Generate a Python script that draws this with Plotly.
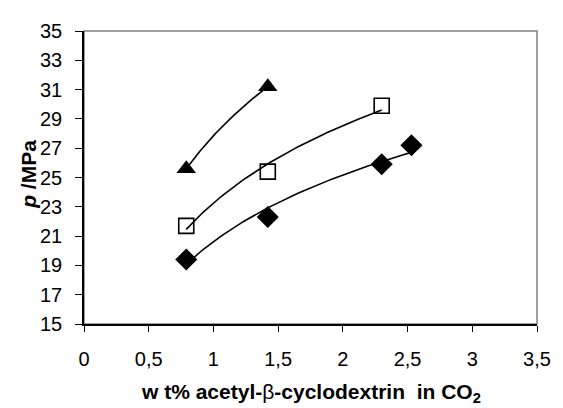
import numpy as np
import plotly.graph_objects as go

# Data
tri_x = [0.79, 1.42]
tri_y = [25.6, 31.2]
sq_x = [0.79, 1.42, 2.30]
sq_y = [21.7, 25.4, 29.9]
dia_x = [0.79, 1.42, 2.30, 2.53]
dia_y = [19.4, 22.3, 25.9, 27.2]

x_ticks = [0, 0.5, 1, 1.5, 2, 2.5, 3, 3.5]
x_ticktext = ["0", "0,5", "1", "1,5", "2", "2,5", "3", "3,5"]
y_ticks = [15, 17, 19, 21, 23, 25, 27, 29, 31, 33, 35]

FONT = "Liberation Sans, Arial, sans-serif"


def log_trend(xs, ys, n=80):
    a, b = np.polyfit(np.log(xs), ys, 1)
    xx = np.linspace(min(xs), max(xs), n)
    return xx, a * np.log(xx) + b


fig = go.Figure()
for xs, ys in [(tri_x, tri_y), (sq_x, sq_y), (dia_x, dia_y)]:
    xx, yy = log_trend(xs, ys)
    fig.add_trace(go.Scatter(x=xx, y=yy, mode="lines",
                             line=dict(color="black", width=1.6),
                             showlegend=False, hoverinfo="skip"))

fig.add_trace(go.Scatter(x=tri_x, y=tri_y, mode="markers",
                         marker=dict(symbol="triangle-up", size=17, color="black"),
                         showlegend=False))
fig.add_trace(go.Scatter(x=sq_x, y=sq_y, mode="markers",
                         marker=dict(symbol="square-open", size=15, color="black",
                                     line=dict(width=1.6, color="black")),
                         showlegend=False))
fig.add_trace(go.Scatter(x=dia_x, y=dia_y, mode="markers",
                         marker=dict(symbol="diamond", size=17, color="black"),
                         showlegend=False))

fig.add_shape(type="rect", xref="x domain", yref="y domain", x0=0, x1=1, y0=0, y1=1,
              line=dict(color="#808080", width=1.5), layer="below")

# page body has an 8px margin, so the figure is sized/offset accordingly
fig.update_layout(
    width=555, height=400,
    margin=dict(l=76, r=18, t=17, b=84),
    paper_bgcolor="white", plot_bgcolor="white",
    font=dict(family=FONT, size=20, color="black"),
    xaxis=dict(range=[0, 3.5], tickvals=x_ticks, ticktext=x_ticktext,
               showgrid=False, zeroline=False, showline=True, linecolor="black",
               linewidth=1.5, ticks="outside", ticklen=6, tickwidth=1.2,
               tickcolor="black", ticklabelstandoff=10,
               tickfont=dict(family=FONT, size=20)),
    yaxis=dict(range=[15, 35], tickvals=y_ticks,
               showgrid=False, zeroline=False, showline=True, linecolor="black",
               linewidth=1.5, ticks="outside", ticklen=7, tickwidth=1.2,
               tickcolor="black", ticklabelstandoff=9,
               tickfont=dict(family=FONT, size=20)),
    annotations=[
        dict(text="<b>w t% acetyl-</b>β<b>-cyclodextrin  in CO<sub>2</sub></b>",
             xref="paper", yref="paper", x=0.5, y=-0.236, xanchor="center",
             yanchor="middle", showarrow=False, font=dict(family=FONT, size=21)),
        dict(text="<b><i>p</i> /MPa</b>", textangle=-90,
             xref="paper", yref="paper", x=-0.123, y=0.51, xanchor="center",
             yanchor="middle", showarrow=False, font=dict(family=FONT, size=21)),
    ],
)

fig.write_html("out.html")
